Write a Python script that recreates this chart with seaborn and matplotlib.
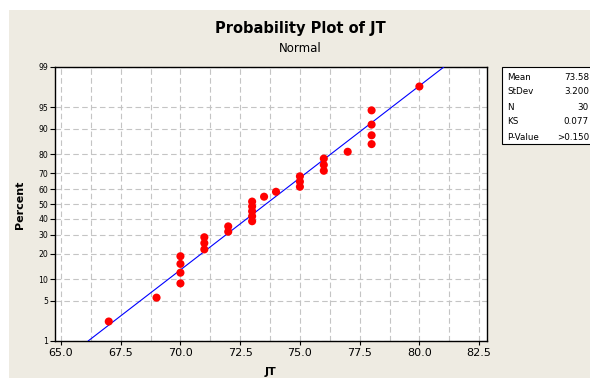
import numpy as np
import pandas as pd
import matplotlib
matplotlib.use("Agg")
import matplotlib.pyplot as plt
from matplotlib.patches import Rectangle
import seaborn as sns
from statistics import NormalDist

# ---- data ----
jt = [67, 69, 70, 70, 70, 70, 71, 71, 71, 72, 72, 73, 73, 73, 73, 73, 73.5, 74,
      75, 75, 75, 76, 76, 76, 77, 78, 78, 78, 78, 80]
percent = [2.30, 5.59, 8.88, 12.17, 15.46, 18.75, 22.04, 25.33, 28.62, 31.91,
           35.20, 38.49, 41.78, 45.07, 48.36, 51.64, 54.93, 58.22, 61.51, 64.80,
           68.09, 71.38, 74.67, 77.96, 81.25, 84.54, 87.83, 91.12, 94.41, 97.70]
y_ticks = [1, 5, 10, 20, 30, 40, 50, 60, 70, 80, 90, 95, 99]
x_ticks = [65.0, 67.5, 70.0, 72.5, 75.0, 77.5, 80.0, 82.5]
stat_names = ["Mean", "StDev", "N", "KS", "P-Value"]
stat_values = ["73.58", "3.200", "30", "0.077", ">0.150"]
mean_v, sd_v = 73.58, 3.200

df = pd.DataFrame({"JT": jt, "Percent": percent})

sns.set_style("white")
plt.rcParams["font.family"] = ["DejaVu Sans"]
plt.rcParams["text.color"] = "black"
plt.rcParams["axes.labelcolor"] = "black"
plt.rcParams["xtick.color"] = "black"
plt.rcParams["ytick.color"] = "black"

W, H = 590, 378
fig = plt.figure(figsize=(W / 100, H / 100), dpi=100, facecolor="white")
bg = "#EEEBE2"
fig.patches.append(Rectangle((9 / W, 0), 1, 1 - 10 / H, transform=fig.transFigure,
                             facecolor=bg, edgecolor="none", zorder=-10))

ax = fig.add_axes([55 / W, (H - 341) / H, 432 / W, 274 / H])
ax.set_facecolor("white")

_nd = NormalDist()
_ppf = np.vectorize(lambda v: _nd.inv_cdf(v / 100.0), otypes=[float])
_cdf = np.vectorize(lambda v: _nd.cdf(v) * 100.0, otypes=[float])
def fwd(p):
    p = np.clip(np.asarray(p, dtype=float), 1e-6, 100 - 1e-6)
    return _ppf(p)
def inv(z):
    return _cdf(np.asarray(z, dtype=float))

# fitted line
p_line = np.array([1.0, 99.0])
x_line = [mean_v + sd_v * _nd.inv_cdf(p / 100) for p in p_line]
ax.plot(x_line, p_line, color="#0000FF", lw=0.8, zorder=3)

sns.scatterplot(data=df, x="JT", y="Percent", ax=ax, color="#FF0000",
                edgecolor="none", s=34, zorder=4, legend=False)

ax.set_yscale("function", functions=(fwd, inv))
ax.set_ylim(1, 99)
ax.set_xlim(64.75, 82.83)

ax.set_yticks(y_ticks)
ax.set_yticklabels([str(t) for t in y_ticks], fontsize=5.6, color="black")
ax.yaxis.set_minor_locator(matplotlib.ticker.NullLocator())
ax.set_xticks(x_ticks)
ax.set_xticklabels([f"{t:.1f}" for t in x_ticks], fontsize=8, color="black")
ax.set_xticks(np.arange(66.25, 82.5, 2.5), minor=True)
ax.tick_params(axis="x", which="major", direction="out", length=3, width=0.8,
               pad=2, colors="black", bottom=True)
ax.tick_params(axis="x", which="minor", length=0, bottom=True)
ax.tick_params(axis="y", which="major", direction="out", length=3.5, width=0.8,
               pad=1.5, colors="black", left=True)

ax.grid(True, which="both", axis="x", color="#C4C4C4", lw=0.8, ls=(0, (5, 3)))
ax.grid(True, which="major", axis="y", color="#C4C4C4", lw=0.8, ls=(0, (5, 3)))
ax.set_axisbelow(True)
for s in ax.spines.values():
    s.set_visible(True)
    s.set_color("black")
    s.set_linewidth(1.0)

ax.set_xlabel("")
ax.set_ylabel("")
fig.text(270 / W, 1 - 372 / H, "JT", ha="center", va="center", fontsize=8,
         fontweight="bold", color="black")
fig.text(20 / W, 1 - 205 / H, "Percent", ha="center", va="center", fontsize=8,
         fontweight="bold", rotation=90, color="black")

fig.text(300 / W, 1 - 28 / H, "Probability Plot of JT", ha="center", va="center",
         fontsize=10.5, fontweight="bold", color="black")
fig.text(300 / W, 1 - 49 / H, "Normal", ha="center", va="center", fontsize=8.5,
         color="black")

# statistics box
fig.patches.append(Rectangle((502 / W, 1 - 144 / H), 100 / W, 77 / H,
                             transform=fig.transFigure, facecolor="white",
                             edgecolor="black", lw=0.8, zorder=5))
rows_y = [77, 92, 107, 122, 137]
for name, val, yy in zip(stat_names, stat_values, rows_y):
    fig.text(507 / W, 1 - yy / H, name, ha="left", va="center", fontsize=6.3,
             zorder=6, color="black")
    fig.text(589 / W, 1 - yy / H, val, ha="right", va="center", fontsize=6.3,
             zorder=6, color="black")

fig.savefig("out.png", dpi=100, facecolor="white")
